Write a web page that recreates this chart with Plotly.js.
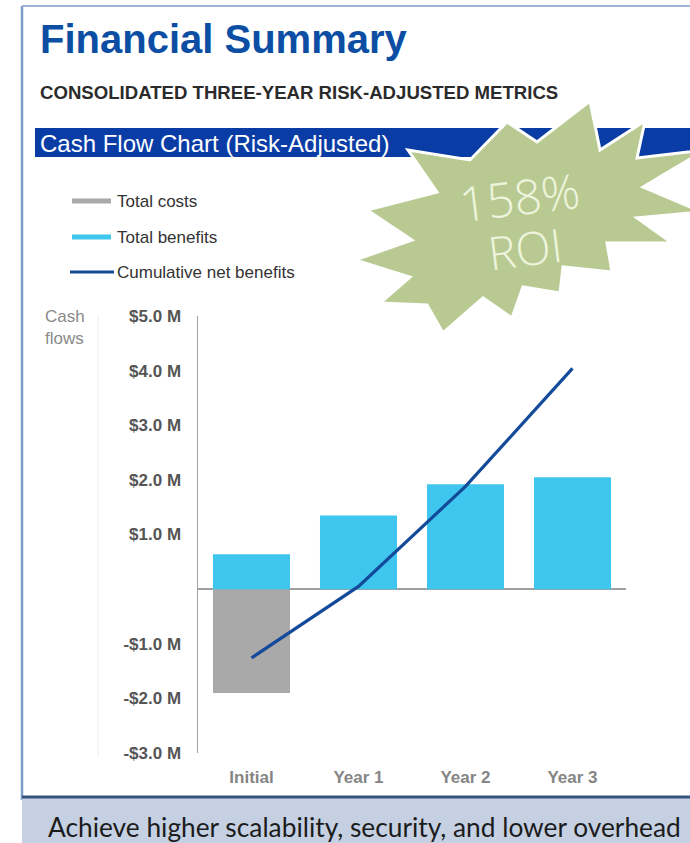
<!DOCTYPE html>
<html>
<head>
<meta charset="utf-8">
<script src="https://cdn.plot.ly/plotly-3.0.1.min.js"></script>
<style>
html,body{margin:0;padding:0;background:#ffffff;}
#chart{width:690px;height:843px;}
</style>
</head>
<body>
<div id="chart"></div>
<script>
// ---- data ----
var categories = ["Initial", "Year 1", "Year 2", "Year 3"];
var totalCosts = [-1.90, 0, 0, 0];
var totalBenefits = [0.64, 1.35, 1.92, 2.05];
var cumulativeNet = [-1.26, 0.05, 1.88, 4.04];
var yTickVals = [5, 4, 3, 2, 1, -1, -2, -3];
var yTickText = ["$5.0 M", "$4.0 M", "$3.0 M", "$2.0 M", "$1.0 M", "-$1.0 M", "-$2.0 M", "-$3.0 M"];
var legendNames = ["Total costs", "Total benefits", "Cumulative net benefits"];

// ---- layout helpers (pixel -> paper) ----
var W = 690, H = 843;
var M = {l: 198, r: 64, t: 316, b: 90};
var PW = W - M.l - M.r, PH = H - M.t - M.b;
function px(x){ return (x - M.l) / PW; }
function py(y){ return (H - M.b - y) / PH; }

var C_GRAY = "#a9a9a9", C_CYAN = "#3ec6ee", C_NAVY = "#144a9a";
var SANS = "Liberation Sans, Arial, sans-serif";

var traces = [
  {type: "bar", name: legendNames[0], x: categories, y: totalCosts,
   marker: {color: C_GRAY}, hoverinfo: "skip"},
  {type: "bar", name: legendNames[1], x: categories, y: totalBenefits,
   marker: {color: C_CYAN}, hoverinfo: "skip"},
  {type: "scatter", mode: "lines", name: legendNames[2], x: categories, y: cumulativeNet,
   line: {color: C_NAVY, width: 3.2}, hoverinfo: "skip"}
];

// starburst outline (decoration)
var star = [[590,101],[600,150],[645,121],[637,158],[705,150],[643,187],[702,212],[637,218],
  [672,243],[607,243],[612,272],[563,267],[560,293],[523,287],[512,318],[483,298],[443,333],
  [427,305],[380,303],[410,277],[355,260],[412,240],[367,210],[437,192],[408,150],[470,160],
  [507,122],[537,142]];
var starPath = star.map(function(p,i){ return (i===0?"M ":"L ") + px(p[0]).toFixed(4) + " " + py(p[1]).toFixed(4); }).join(" ") + " Z";

var shapes = [
  // frame
  {type:"line", xref:"paper", yref:"paper", x0:px(22), x1:px(22), y0:py(6), y1:py(800), line:{color:"#7d9cc6", width:2.5}},
  {type:"line", xref:"paper", yref:"paper", x0:px(22), x1:px(695), y0:py(6), y1:py(6), line:{color:"#9db4d4", width:2}},
  // blue band
  {type:"rect", xref:"paper", yref:"paper", x0:px(35), x1:px(695), y0:py(128), y1:py(157), fillcolor:"#0a3ca6", line:{width:0}},
  // starburst
  {type:"path", xref:"paper", yref:"paper", path: starPath, fillcolor:"#b8ca92", line:{color:"#ffffff", width:3}},
  // faint guide line
  {type:"line", xref:"paper", yref:"paper", x0:px(98), x1:px(98), y0:py(316), y1:py(756), line:{color:"#ececec", width:1}},
  // legend samples
  {type:"line", xref:"paper", yref:"paper", x0:px(72), x1:px(111), y0:py(201), y1:py(201), line:{color:C_GRAY, width:5}},
  {type:"line", xref:"paper", yref:"paper", x0:px(72), x1:px(111), y0:py(237), y1:py(237), line:{color:C_CYAN, width:5}},
  {type:"line", xref:"paper", yref:"paper", x0:px(70), x1:px(114), y0:py(272), y1:py(272), line:{color:C_NAVY, width:3}},
  // footer
  {type:"rect", xref:"paper", yref:"paper", x0:px(22), x1:px(695), y0:py(797), y1:py(850), fillcolor:"#c5d1e2", line:{width:0}},
  {type:"line", xref:"paper", yref:"paper", x0:px(22), x1:px(695), y0:py(797), y1:py(797), line:{color:"#33557f", width:3}}
];

function ann(text, x, y, size, color, opts){
  var a = {text:text, xref:"paper", yref:"paper", x:px(x), y:py(y), xanchor:"left", yanchor:"middle",
    showarrow:false, font:{family:SANS, size:size, color:color}};
  if (opts) for (var k in opts) { if (k === "font") { for (var f in opts.font) a.font[f] = opts.font[f]; } else a[k] = opts[k]; }
  return a;
}

var annotations = [
  ann("Financial Summary", 38, 39, 40, "#0b4ea3", {font:{weight:"bold"}}),
  ann("CONSOLIDATED THREE-YEAR RISK-ADJUSTED METRICS", 38, 92, 18.6, "#2b2b2b", {font:{weight:"bold"}}),
  ann("Cash Flow Chart (Risk-Adjusted)", 38, 143, 24, "#ffffff"),
  ann(legendNames[0], 115, 201, 17, "#333333"),
  ann(legendNames[1], 115, 237, 17, "#333333"),
  ann(legendNames[2], 115, 272, 17, "#333333"),
  ann("Cash<br>flows", 43, 327, 17, "#8a8a8a", {align:"left"}),
  ann("158%", 519, 196, 48, "#eef4dd", {xanchor:"center", textangle:-7, font:{family:"Open Sans, DejaVu Sans, sans-serif", weight:300}}),
  ann("ROI", 525, 248, 46, "#eef4dd", {xanchor:"center", textangle:-7, font:{family:"Open Sans, DejaVu Sans, sans-serif", weight:300}}),
  ann("Achieve higher scalability, security, and lower overhead", 46, 827, 26.3, "#1c1c1c", {font:{family:"Lato, Open Sans, sans-serif"}})
];

var layout = {
  width: W, height: H,
  margin: M,
  paper_bgcolor: "#ffffff",
  plot_bgcolor: "rgba(0,0,0,0)",
  showlegend: false,
  barmode: "relative",
  bargap: 0.28,
  xaxis: {
    type: "category", range: [-0.5, 3.5], showgrid: false, zeroline: false, showline: false,
    ticks: "", ticklabelstandoff: 12,
    tickfont: {family: SANS, size: 17, color: "#858585", weight: "bold"},
    fixedrange: true
  },
  yaxis: {
    range: [-3, 5], showgrid: false,
    zeroline: true, zerolinecolor: "#a0a0a0", zerolinewidth: 1.5,
    showline: true, linecolor: "#a0a0a0", linewidth: 1.5,
    ticks: "", tickvals: yTickVals, ticktext: yTickText, ticklabelstandoff: 12,
    tickfont: {family: SANS, size: 17, color: "#555555", weight: "bold"},
    fixedrange: true
  },
  shapes: shapes,
  annotations: annotations
};

Plotly.newPlot("chart", traces, layout, {displayModeBar: false, staticPlot: true});
</script>
</body>
</html>
